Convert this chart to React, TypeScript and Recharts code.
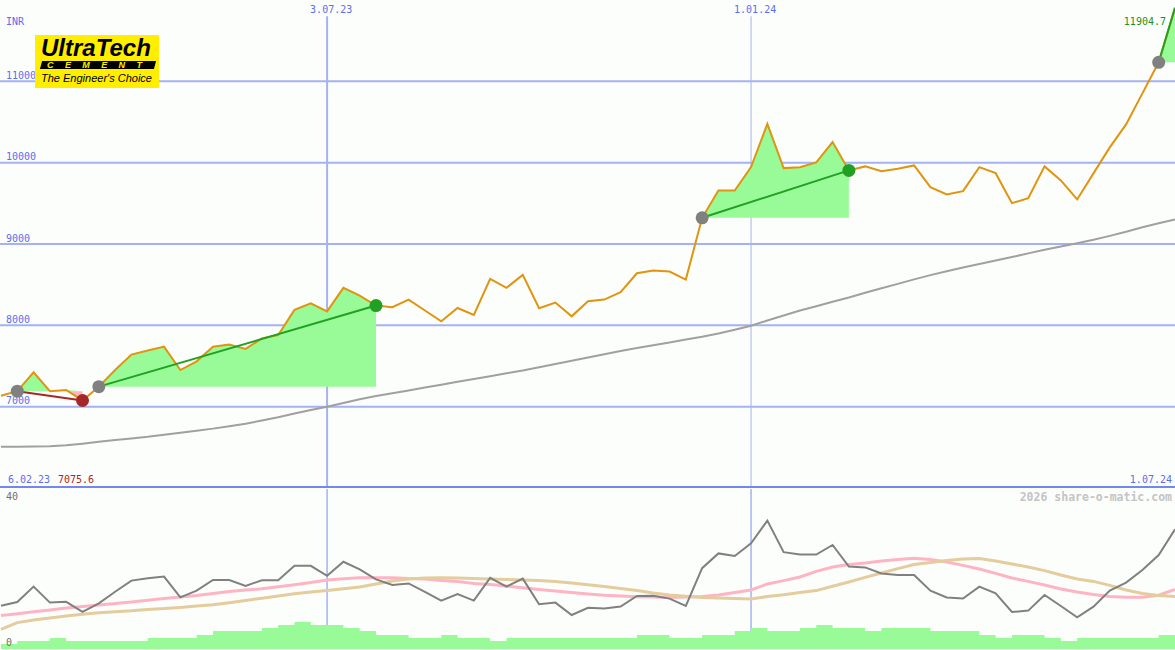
import React from 'react';
import { ComposedChart, Line, Area, XAxis, YAxis, ReferenceLine, ReferenceDot } from 'recharts';

// weekly closes, first one is 20 weeks before 3.07.23
const FIRST_WEEK = -20;

const closes = [
  7135, 7190, 7422, 7190, 7205, 7075.6, 7246, 7450, 7640, 7690,
  7738, 7450, 7557, 7738, 7763, 7710, 7840, 7880, 8190, 8271,
  8171, 8461, 8366, 8243, 8222, 8317, 8182, 8050, 8213, 8128,
  8571, 8461, 8620, 8210, 8280, 8111, 8296, 8317, 8407, 8640,
  8674, 8662, 8563, 9322, 9658, 9658, 9945, 10477, 9933, 9945,
  10003, 10253, 9905, 9954, 9896, 9925, 9966, 9699, 9609, 9650,
  9945, 9871, 9502, 9563, 9954, 9782, 9548, 9868, 10188, 10471,
  10852, 11234, 11904.7,
];

const movingAvg = [
  6508, 6508, 6510, 6514, 6525, 6545, 6568, 6590, 6610, 6630,
  6655, 6680, 6705, 6730, 6760, 6790, 6830, 6870, 6915, 6958,
  7000, 7045, 7090, 7130, 7165, 7200, 7235, 7270, 7305, 7340,
  7375, 7410, 7445, 7485, 7525, 7565, 7605, 7645, 7685, 7720,
  7755, 7790, 7825, 7860, 7900, 7945, 7995, 8060, 8120, 8182,
  8235, 8290, 8342, 8400, 8457, 8510, 8565, 8617, 8665, 8710,
  8755, 8797, 8840, 8885, 8930, 8970, 9010, 9052, 9100, 9150,
  9205, 9255, 9302,
];

const oscillator = [
  10.8, 11.75, 15.6, 11.6, 11.8, 9.3, 11.4, 14.3, 17.1, 17.7,
  18.1, 12.9, 14.6, 17.25, 17.25, 15.75, 17.2, 17.2, 20.8, 20.8,
  18.3, 21.8, 19.9, 17.4, 16, 16.4, 14.3, 12.1, 13.75, 12.1,
  17.8, 15.6, 17.6, 11.2, 11.6, 8.5, 10.3, 10.1, 10.6, 13.25,
  13.3, 12.6, 10.75, 20.2, 23.9, 23.25, 26.4, 32.1, 24.2, 23.6,
  23.6, 26, 20.6, 20.4, 18.9, 18.5, 18.5, 14.6, 12.9, 12.6,
  15.6, 13.9, 9.25, 9.6, 13.5, 10.75, 7.9, 10.6, 14.6, 16.6,
  19.75, 23.5, 29.9,
];

const oscFast = [
  8.4, 8.8, 9.3, 9.75, 10.25, 10.6, 11, 11.4, 11.75, 12.2,
  12.6, 13, 13.4, 13.9, 14.4, 14.75, 15.05, 15.55, 16.05, 16.6,
  17.25, 17.55, 17.8, 17.8, 17.8, 17.6, 17.5, 17.1, 16.9, 16.4,
  16.1, 15.75, 15.3, 14.9, 14.5, 14.1, 13.75, 13.45, 13.25, 13.05,
  13, 12.9, 13, 13.1, 13.5, 14.1, 14.75, 16.25, 17.1, 18,
  19.4, 20.5, 21.1, 21.5, 22, 22.4, 22.7, 22.4, 21.75, 20.9,
  20, 18.9, 17.75, 16.9, 16, 15, 14.25, 13.6, 13.1, 12.95,
  12.95, 13.45, 14.9,
];

const oscSlow = [
  4.9, 6.6, 7.25, 7.75, 8.25, 8.7, 9.05, 9.3, 9.55, 9.9,
  10.1, 10.4, 10.75, 11.05, 11.55, 12.1, 12.7, 13.25, 13.8, 14.25,
  14.6, 15.05, 15.5, 16.25, 17, 17.5, 17.75, 17.8, 17.75, 17.6,
  17.5, 17.4, 17.25, 17.1, 16.9, 16.5, 16.05, 15.6, 15.1, 14.6,
  14, 13.5, 13.2, 12.9, 12.75, 12.6, 12.5, 13.1, 13.55, 14.1,
  14.6, 15.7, 16.75, 17.9, 19, 20.1, 21.1, 21.6, 22.1, 22.5,
  22.6, 22, 21.25, 20.5, 19.6, 18.5, 17.5, 16.9, 15.9, 14.75,
  13.9, 13.4, 13.1,
];

const volume = [
  5, 8, 8, 11, 8, 8, 8, 8, 8, 11,
  11, 11, 14, 18, 18, 18, 21, 24, 27, 24,
  24, 21, 18, 14, 14, 11, 11, 14, 11, 11,
  8, 11, 11, 11, 11, 11, 11, 11, 11, 14,
  14, 11, 11, 14, 14, 18, 21, 18, 18, 21,
  24, 21, 21, 18, 21, 21, 21, 18, 18, 18,
  14, 11, 14, 14, 11, 8, 11, 11, 11, 11,
  11, 14, 14,
];

const priceTicks = [7000, 8000, 9000, 10000, 11000];
const dateMarks = [
  { week: 0, label: '3.07.23', width: 2 },
  { week: 26, label: '1.01.24', width: 1 },
];

// buy / sell weeks; the last one is still open
const trades = [
  { buy: -19, sell: -15, open: false },
  { buy: -14, sell: 3, open: false },
  { buy: 23, sell: 32, open: false },
  { buy: 51, sell: 52, open: true },
];

const WIDTH = 1175;
const TOP_HEIGHT = 488;
const BOTTOM_HEIGHT = 162;
const X_DOMAIN = [-20.06, 52];
const PRICE_DOMAIN = [6000, 12000];
const DATE_LINE_TOP = 11800;
const SEPARATOR = 6012;
const NO_MARGIN = { top: 0, right: 0, bottom: 0, left: 0 };

const BG = '#fcfefc';
const GRID = '#a4b2f4';
const BLUE = '#5a6ef0';
const MONO = '"DejaVu Sans Mono", monospace';
const GAIN = '#98fb98';
const LOSS = '#ffb6c1';
const WIN = '#22a022';
const LOSE = '#a52828';

const closeAt = (week: number) => closes[week - FIRST_WEEK];

const rows = closes.map((c, i) => {
  const week = i + FIRST_WEEK;
  const row: any = {
    week,
    close: c,
    avg: movingAvg[i],
    osc: oscillator[i],
    fast: oscFast[i],
    slow: oscSlow[i],
    vol: volume[i],
  };
  trades.forEach((t, j) => {
    if (week >= t.buy && week <= t.sell) {
      const base = closeAt(t.buy);
      row[`gain${j}`] = [base, Math.max(c, base)];
      row[`loss${j}`] = [Math.min(c, base), base];
      if (week === t.buy || week === t.sell) row[`trade${j}`] = c;
    }
  });
  return row;
});

const priceLabel = (text: string) => (props: any) => {
  const vb = props.viewBox || { x: 0, y: 0 };
  return (
    <text x={vb.x + 6} y={vb.y - 2.5} fill={BLUE} fontSize={10} fontFamily={MONO}>
      {text}
    </text>
  );
};

const dateLabel = (text: string) => (props: any) => {
  const vb = props.viewBox || { x: 0, y: 0 };
  return (
    <text x={vb.x - 17} y={vb.y - 3} fill={BLUE} fontSize={10} fontFamily={MONO}>
      {text}
    </text>
  );
};

function TopGrid() {
  return (
    <ComposedChart width={WIDTH} height={TOP_HEIGHT} data={rows} margin={NO_MARGIN}>
      <XAxis type="number" dataKey="week" domain={X_DOMAIN} allowDataOverflow hide />
      <YAxis type="number" domain={PRICE_DOMAIN} allowDataOverflow hide />
      <Line dataKey="close" stroke="none" dot={false} activeDot={false} isAnimationActive={false} />
      {priceTicks.map((v) => (
        <ReferenceLine key={v} y={v} stroke={GRID} strokeWidth={2} label={priceLabel(String(v))} />
      ))}
      {dateMarks.map((m) => (
        <ReferenceLine
          key={m.label}
          segment={[{ x: m.week, y: DATE_LINE_TOP }, { x: m.week, y: PRICE_DOMAIN[0] }]}
          stroke={GRID}
          strokeWidth={m.width}
          label={dateLabel(m.label)}
        />
      ))}
      <ReferenceLine y={SEPARATOR} stroke="#7486f0" strokeWidth={2} />
    </ComposedChart>
  );
}

function TopSeries() {
  return (
    <ComposedChart width={WIDTH} height={TOP_HEIGHT} data={rows} margin={NO_MARGIN}>
      <XAxis type="number" dataKey="week" domain={X_DOMAIN} allowDataOverflow hide />
      <YAxis type="number" domain={PRICE_DOMAIN} allowDataOverflow hide />
      {trades.map((t, j) => (
        <Area key={`g${j}`} type="linear" dataKey={`gain${j}`} stroke="none" fill={GAIN} fillOpacity={1}
          dot={false} activeDot={false} isAnimationActive={false} />
      ))}
      {trades.map((t, j) => (
        <Area key={`l${j}`} type="linear" dataKey={`loss${j}`} stroke="none" fill={LOSS} fillOpacity={1}
          dot={false} activeDot={false} isAnimationActive={false} />
      ))}
      <Line type="linear" dataKey="avg" stroke="#a0a0a0" strokeWidth={2} dot={false} activeDot={false} isAnimationActive={false} />
      {trades.map((t) => (
        <ReferenceDot key={`b${t.buy}`} x={t.buy} y={closeAt(t.buy)} r={6.5} fill="#808080" stroke="none" />
      ))}
      {trades.filter((t) => !t.open).map((t) => (
        <ReferenceDot key={`s${t.sell}`} x={t.sell} y={closeAt(t.sell)} r={6.5}
          fill={closeAt(t.sell) >= closeAt(t.buy) ? WIN : LOSE} stroke="none" />
      ))}
      <Line type="linear" dataKey="close" stroke="#e09410" strokeWidth={2} dot={false} activeDot={false} isAnimationActive={false} />
      {trades.map((t, j) => (
        <Line key={`t${j}`} type="linear" dataKey={`trade${j}`} connectNulls
          stroke={closeAt(t.sell) >= closeAt(t.buy) ? WIN : LOSE} strokeWidth={2}
          dot={false} activeDot={false} isAnimationActive={false} />
      ))}
    </ComposedChart>
  );
}

function BottomGrid() {
  return (
    <ComposedChart width={WIDTH} height={BOTTOM_HEIGHT} data={rows} margin={{ top: 1, right: 0, bottom: 1, left: 0 }}>
      <XAxis type="number" dataKey="week" domain={X_DOMAIN} allowDataOverflow hide />
      <YAxis type="number" domain={[0, 40]} allowDataOverflow hide />
      <Line dataKey="osc" stroke="none" dot={false} activeDot={false} isAnimationActive={false} />
      {dateMarks.map((m) => (
        <ReferenceLine key={m.label} x={m.week} stroke={GRID} strokeWidth={1.5} />
      ))}
    </ComposedChart>
  );
}

function BottomSeries() {
  return (
    <ComposedChart width={WIDTH} height={BOTTOM_HEIGHT} data={rows} margin={{ top: 1, right: 0, bottom: 1, left: 0 }}>
      <XAxis type="number" dataKey="week" domain={X_DOMAIN} allowDataOverflow hide />
      <YAxis yAxisId="osc" type="number" domain={[0, 40]} allowDataOverflow hide />
      <YAxis yAxisId="vol" type="number" domain={[0, 160]} allowDataOverflow hide />
      <Area yAxisId="vol" type="stepAfter" dataKey="vol" stroke="none" fill={GAIN} fillOpacity={1}
        dot={false} activeDot={false} isAnimationActive={false} />
      <Line yAxisId="osc" type="linear" dataKey="fast" stroke="#ffb4c4" strokeWidth={3} dot={false} activeDot={false} isAnimationActive={false} />
      <Line yAxisId="osc" type="linear" dataKey="slow" stroke="#e4cc9c" strokeWidth={3} dot={false} activeDot={false} isAnimationActive={false} />
      <Line yAxisId="osc" type="linear" dataKey="osc" stroke="#808080" strokeWidth={2} dot={false} activeDot={false} isAnimationActive={false} />
    </ComposedChart>
  );
}

function Logo() {
  return (
    <div style={{ position: 'absolute', left: 35, top: 35, width: 124, height: 53, background: '#ffee00', overflow: 'hidden' }}>
      <div style={{
        position: 'absolute', left: 6, top: 2, lineHeight: '21px', height: 21, fontSize: 24, fontWeight: 'bold',
        fontStyle: 'italic', fontFamily: '"Liberation Sans", Arial, sans-serif', letterSpacing: 0, color: '#000',
      }}>UltraTech</div>
      <div style={{
        position: 'absolute', left: 6, top: 26, width: 114, height: 8, background: '#000', transform: 'skewX(-15deg)',
      }} />
      <div style={{
        position: 'absolute', left: 12, top: 26, lineHeight: '8px', height: 8, fontSize: 9, fontWeight: 'bold', fontStyle: 'italic',
        fontFamily: '"Liberation Sans", Arial, sans-serif', letterSpacing: 11.4, color: '#ffee00',
      }}>CEMENT</div>
      <div style={{
        position: 'absolute', left: 6, top: 38, lineHeight: '11px', fontSize: 11, fontStyle: 'italic',
        fontFamily: '"Liberation Sans", Arial, sans-serif', color: '#000',
      }}>The Engineer's Choice</div>
    </div>
  );
}

function Texts() {
  return (
    <svg width={WIDTH} height={650} style={{ position: 'absolute', left: 0, top: 0, pointerEvents: 'none' }}>
      <g fontFamily={MONO} fontSize={10}>
        <text x={6} y={25} fill={BLUE}>INR</text>
        <text x={1166} y={25} fill="#1f8f1f" textAnchor="end">11904.7</text>
        <text x={8} y={483} fill={BLUE}>6.02.23</text>
        <text x={58} y={483} fill={LOSE}>7075.6</text>
        <text x={1172} y={483} fill={BLUE} textAnchor="end">1.07.24</text>
        <text x={6} y={500} fill="#707070">40</text>
        <text x={6} y={646} fill="#707070">0</text>
      </g>
      <text x={1172} y={501} fill="#c4c4c4" fontFamily={MONO} fontSize={11.5} fontWeight="bold" textAnchor="end">
        2026 share-o-matic.com
      </text>
    </svg>
  );
}

export default function App() {
  return (
    <div style={{ position: 'absolute', left: 0, top: 0, width: WIDTH, height: 650, background: BG, overflow: 'hidden' }}>
      <div style={{ position: 'absolute', left: 0, top: 0 }}><TopGrid /></div>
      <div style={{ position: 'absolute', left: 0, top: 0 }}><TopSeries /></div>
      <div style={{ position: 'absolute', left: 0, top: 488 }}><BottomGrid /></div>
      <div style={{ position: 'absolute', left: 0, top: 488 }}><BottomSeries /></div>
      <Texts />
      <Logo />
    </div>
  );
}
